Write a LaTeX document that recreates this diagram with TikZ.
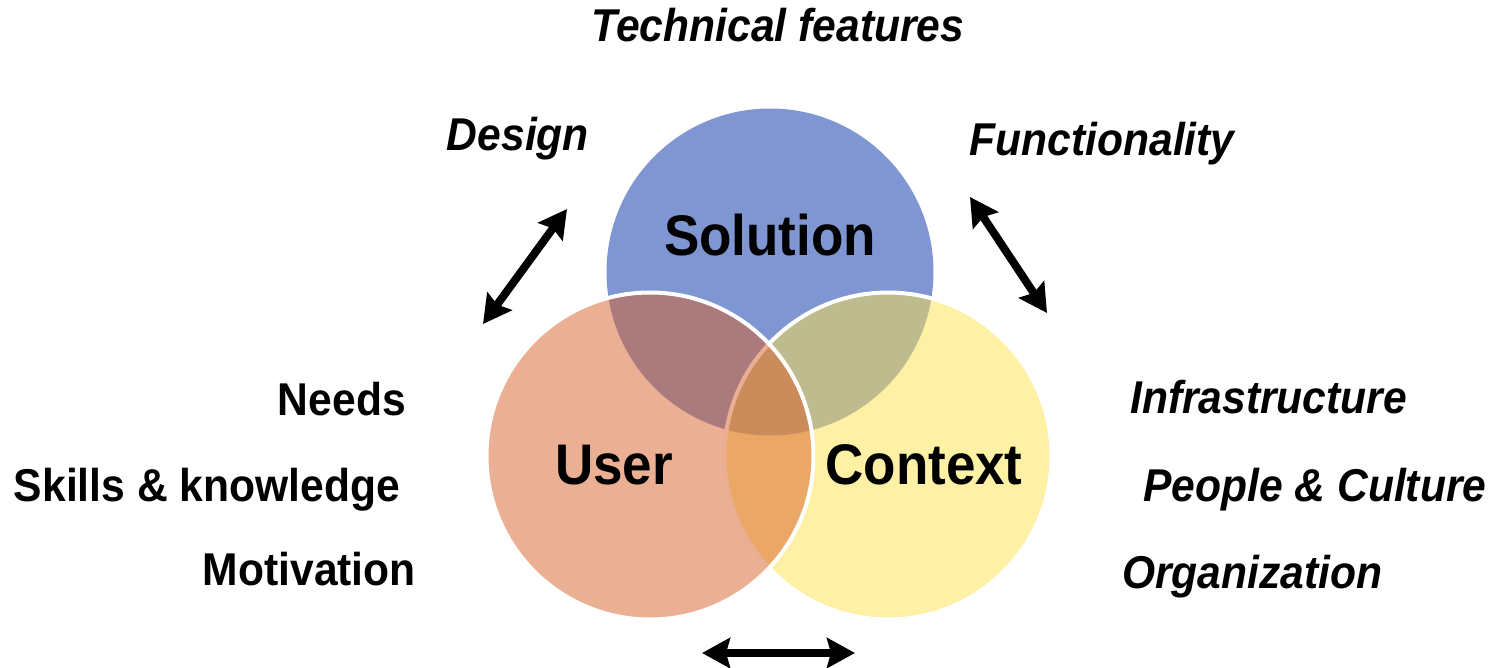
\documentclass[tikz,border=0pt]{standalone}
\usepackage{fontspec}
\setmainfont{Liberation Sans}
\usetikzlibrary{arrows.meta}
\definecolor{solblue}{HTML}{7F96D3}
\definecolor{ctxyel}{HTML}{FDE14B}
\definecolor{usrred}{HTML}{D75F29}
\newcommand\vstretch[1]{\scalebox{1}[1.08]{#1}}
\begin{document}
\begin{tikzpicture}[x=1pt,y=-1pt,
  lab/.style={font=\fontsize{42.6}{50}\selectfont\bfseries\itshape, inner sep=0},
  labup/.style={font=\fontsize{42.6}{50}\selectfont\bfseries, inner sep=0},
  big/.style={font=\fontsize{53}{60}\selectfont\bfseries, inner sep=0},
  venn/.style={circle, minimum size=327pt, inner sep=0, outer sep=0, draw=white, line width=4pt},
  dbl/.style={line width=8pt, {Stealth[length=28pt,width=30pt,inset=4pt]}-{Stealth[length=28pt,width=30pt,inset=4pt]}}]
\useasboundingbox (0,0) rectangle (1494,668);
% circles
\node[venn, fill=solblue, draw=none] (sol) at (770,272) {};
\node[venn, fill=ctxyel, fill opacity=0.5, draw opacity=1] (ctx) at (888,456) {};
\node[venn, fill=usrred, fill opacity=0.5, draw opacity=1] (usr) at (650,456) {};
% circle titles
\node[big, anchor=base] (tsol) at (770,256) {\vstretch{Solution}};
\node[big, anchor=base] (tusr) at (614,484) {\vstretch{User}};
\node[big, anchor=base] (tctx) at (924,484) {\vstretch{Context}};
% top labels
\node[lab, anchor=base] (tech) at (778,42) {\vstretch{Technical features}};
\node[lab, anchor=base] (des) at (518,151) {\vstretch{Design}};
\node[lab, anchor=base] (fun) at (1102,156) {\vstretch{Functionality}};
% left labels
\node[labup, anchor=base east] (needs) at (406,415) {\vstretch{Needs}};
\node[labup, anchor=base east] (skills) at (400,501) {\vstretch{Skills \& knowledge}};
\node[labup, anchor=base east] (motiv) at (416,585) {\vstretch{Motivation}};
% right labels
\node[lab, anchor=base west] (infra) at (1130,413) {\vstretch{Infrastructure}};
\node[lab, anchor=base west] (people) at (1143,501) {\vstretch{People \& Culture}};
\node[lab, anchor=base west] (org) at (1122,588) {\vstretch{Organization}};
% arrows
\coordinate (d1) at (483,324);
\coordinate (d2) at (567,209);
\coordinate (f1) at (970,197);
\coordinate (f2) at (1047,313);
\coordinate (b1) at (702,653);
\coordinate (b2) at (855,653);
\draw[dbl] (d1) -- (d2);
\draw[dbl] (f1) -- (f2);
\draw[dbl] (b1) -- (b2);
\end{tikzpicture}
\end{document}
